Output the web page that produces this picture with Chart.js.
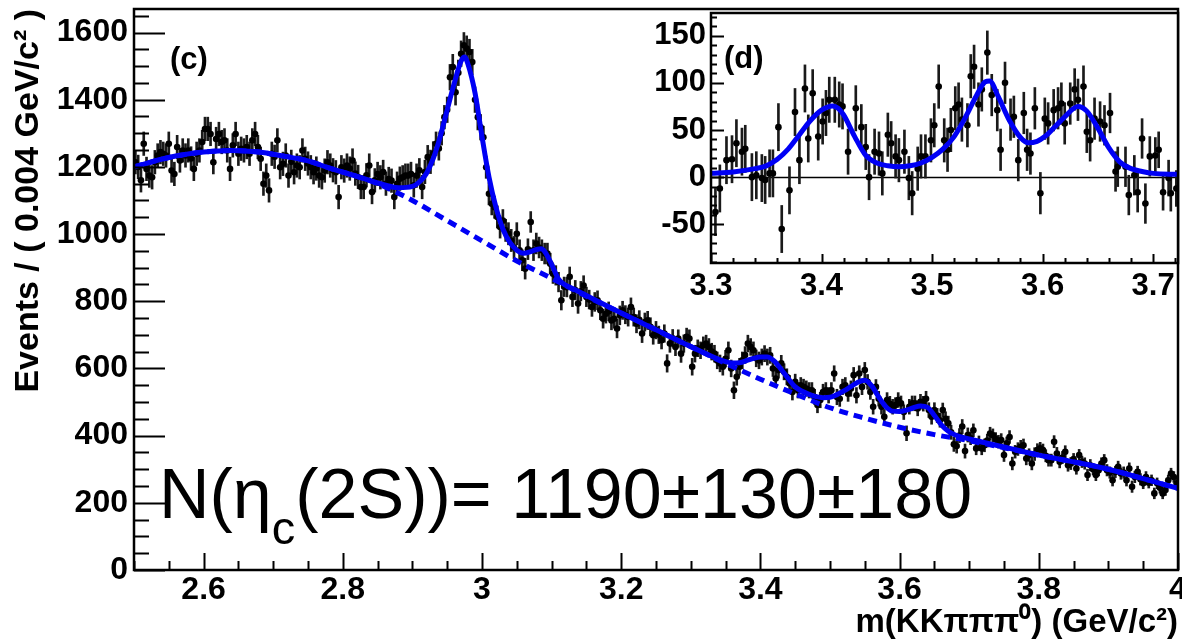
<!DOCTYPE html>
<html>
<head>
<meta charset="utf-8">
<script src="https://cdn.jsdelivr.net/npm/chart.js@4.4.1/dist/chart.umd.min.js"></script>
<style>
  html, body { margin: 0; padding: 0; background: #fff; }
  #wrap { position: relative; width: 1182px; height: 643px; overflow: hidden; font-family: "Liberation Sans", Arial, sans-serif; }
  #main { position: absolute; left: 0; top: 0; }
  #insetBox { position: absolute; left: 640px; top: 0; width: 542px; height: 310px; }
  .lbl { position: absolute; font-weight: bold; font-size: 31px; line-height: 1; color: #000; }
  #ann { position: absolute; left: 159px; top: 459px; font-size: 70px; line-height: 70px; color: #000; white-space: nowrap; }
  #ann .sub { font-size: 47px; position: relative; top: 26px; }
</style>
</head>
<body>
<div id="wrap">
  <canvas id="main" width="1182" height="643"></canvas>
  <div id="insetBox"><canvas id="inset" width="542" height="310"></canvas></div>
  <div class="lbl" style="left:170px; top:43px;">(c)</div>
  <div class="lbl" style="left:724px; top:42px;">(d)</div>
  <div id="ann">N(η<span class="sub">c</span>(2S))= 1190±130±180</div>
</div>
<script>
// ---------------- DATA ----------------
// main histogram: bins of 0.004 GeV/c^2 from 2.50 to 4.00
const BIN_START = 2.502;
const BIN_WIDTH = 0.004;
const mainCounts = [
  1214,1200,1160,1269,1194,1174,1169,1214,1234,1244,
  1239,1234,1269,1189,1179,1259,1219,1249,1234,1249,
  1225,1194,1239,1249,1274,1313,1313,1298,1214,1283,
  1298,1274,1279,1249,1194,1264,1298,1239,1254,1249,
  1259,1239,1279,1298,1259,1224,1150,1174,1130,1239,
  1230,1279,1199,1209,1234,1174,1215,1184,1204,1199,
  1249,1224,1210,1199,1184,1195,1174,1169,1189,1214,
  1204,1190,1184,1110,1199,1189,1204,1195,1219,1180,
  1170,1140,1140,1175,1204,1125,1160,1179,1169,1185,
  1150,1164,1159,1110,1150,1165,1169,1174,1174,1179,
  1145,1174,1190,1140,1185,1229,1215,1240,1269,1255,
  1300,1348,1370,1467,1497,1422,1480,1537,1562,1552,
  1542,1512,1400,1348,1318,1288,1199,1120,1090,1080,
  1051,1021,1040,1011,1001,981,960,1001,952,922,
  897,955,1036,952,972,960,952,942,942,912,
  882,877,857,803,843,842,873,813,833,793,
  830,847,813,805,783,798,803,773,748,763,
  770,743,748,719,758,773,760,753,783,753,
  733,745,704,738,743,724,699,714,700,684,
  704,615,674,690,664,689,644,674,694,689,
  605,644,660,654,669,674,664,650,644,624,
  615,605,629,654,600,535,575,605,624,640,
  674,664,654,630,624,634,644,634,639,600,
  570,595,615,590,575,555,530,560,535,550,
  545,540,535,535,515,491,506,530,535,520,
  535,585,515,510,545,550,525,540,580,520,
  585,545,595,560,530,486,545,510,486,456,
  506,495,486,491,506,496,470,407,486,496,
  496,481,501,495,510,476,456,476,460,446,
  476,450,437,410,374,369,400,427,354,402,
  392,416,362,380,362,371,385,406,401,390,
  382,387,342,377,396,317,352,360,367,371,
  332,342,317,345,357,362,357,340,327,327,
  382,347,322,335,352,312,317,330,302,342,
  322,317,283,312,300,283,297,317,327,297,
  290,267,292,307,287,290,267,302,248,277,
  292,270,258,277,260,267,228,258,245,228,
  238,267,287,277,258
];
// half-length of the error bars, read per 0.05 GeV segment starting at 2.50
const ERR_SEG_START = 2.5;
const ERR_SEG_WIDTH = 0.05;
const errPerSegment = [35,35,35,35,35,35,35,35,35,38, 33,31,29,28,27,26,25,25,24,23, 23,22,22,21,19,19,18,17,17,16];

// total fit (solid) and background (dashed)
const fitMass = [2.50,2.55,2.60,2.64,2.68,2.71,2.75,2.78,2.82,2.85,2.88,2.90,2.91,2.92,2.93,2.94,2.95,2.96,2.97,2.975,2.98,2.99,3.00,3.01,3.02,3.03,3.04,3.05,3.06,3.07,3.08,3.085,3.09,3.10,3.11,3.12,3.13,3.15,3.20,3.25,3.30,3.35,3.36,3.37,3.38,3.39,3.40,3.41,3.42,3.43,3.44,3.45,3.46,3.47,3.48,3.49,3.50,3.51,3.52,3.53,3.54,3.55,3.56,3.57,3.58,3.59,3.60,3.61,3.62,3.63,3.64,3.65,3.66,3.67,3.68,3.70,3.75,3.80,3.85,3.90,3.95,4.00];
const fitValue = [1200,1228,1244,1249,1244,1234,1218,1197,1172,1152,1138,1142,1155,1180,1225,1290,1370,1448,1515,1527,1505,1420,1290,1170,1080,1015,975,952,943,948,955,956,948,910,866,848,838,817,765,715,665,620,616,617,623,630,634,634,622,597,570,545,532,523,516,513,514,522,533,546,559,565,548,515,487,473,472,476,483,488,484,460,432,413,402,390,366,342,322,300,272,243];
const bgMass = [2.50,2.55,2.60,2.64,2.68,2.71,2.75,2.78,2.82,2.85,2.90,2.95,3.00,3.05,3.10,3.15,3.20,3.25,3.30,3.35,3.40,3.45,3.50,3.55,3.60,3.65,3.70,3.75,3.80,3.85,3.90,3.95,4.00];
const bgValue = [1200,1228,1244,1249,1244,1234,1218,1197,1172,1150,1100,1040,980,920,868,815,765,715,665,615,568,524,483,452,425,403,385,364,342,322,300,272,243];

// inset (d): background-subtracted spectrum
const insetMass = [3.304,3.308,3.314,3.319,3.323,3.328,3.331,3.337,3.341,3.346,3.349,3.353,3.356,3.361,3.364,3.371,3.376,3.380,3.385,3.388,3.392,3.397,3.401,3.404,3.407,3.412,3.416,3.419,3.424,3.431,3.436,3.440,3.443,3.448,3.452,3.455,3.460,3.463,3.467,3.470,3.475,3.479,3.482,3.487,3.490,3.494,3.499,3.502,3.506,3.511,3.514,3.517,3.521,3.524,3.527,3.532,3.535,3.538,3.542,3.545,3.550,3.554,3.559,3.562,3.566,3.571,3.574,3.578,3.583,3.586,3.589,3.593,3.598,3.602,3.605,3.610,3.614,3.617,3.620,3.625,3.629,3.632,3.637,3.640,3.643,3.647,3.652,3.656,3.661,3.666,3.668,3.675,3.678,3.683,3.686,3.690,3.693,3.697,3.702,3.705,3.709,3.714,3.716,3.721];
const insetCounts = [-37,-12,18,19,36,27,30,0,2,-1,-3,4,4,53,-55,-14,69,18,94,41,89,43,59,68,82,82,77,75,27,73,53,32,0,27,25,4,45,36,22,18,27,-1,-17,9,22,22,39,55,96,39,29,50,73,77,61,55,107,117,77,93,132,87,71,29,100,61,64,18,68,29,25,73,-17,62,57,71,73,78,57,78,93,82,96,48,39,62,59,55,68,6,11,11,-19,2,-16,41,-28,22,23,29,-16,-1,-17,-12];
const insetFitMass = [3.300,3.320,3.340,3.350,3.360,3.370,3.380,3.390,3.400,3.410,3.415,3.420,3.430,3.440,3.450,3.460,3.470,3.480,3.490,3.500,3.510,3.520,3.530,3.540,3.548,3.552,3.560,3.570,3.580,3.587,3.595,3.602,3.610,3.620,3.632,3.640,3.650,3.660,3.670,3.680,3.690,3.700,3.7225];
const insetFitValue = [4,5.5,9,12,19,30,45,60,71,75.5,73,66,43,23,15,12,11,12,15,21,30,43,63,86,101,102,85,60,42,36.5,38,43,52,64,75,70,52,31,16,9,6,4,3];

// tick labels
const mainXTicks = [2.6, 2.8, 3, 3.2, 3.4, 3.6, 3.8, 4];
const mainYTicks = [0, 200, 400, 600, 800, 1000, 1200, 1400, 1600];
const insetXTicks = [3.3, 3.4, 3.5, 3.6, 3.7];
const insetYTicks = [-50, 0, 50, 100, 150];

// ---------------- helpers ----------------
function errFor(m) {
  let k = Math.floor((m - ERR_SEG_START) / ERR_SEG_WIDTH);
  k = Math.max(0, Math.min(errPerSegment.length - 1, k));
  return errPerSegment[k];
}
const mainMass = mainCounts.map((_, i) => +(BIN_START + BIN_WIDTH * i).toFixed(3));
const pts = (xs, ys) => xs.map((x, i) => ({ x: x, y: ys[i] }));
const bars = (xs, ys) => xs.map((x, i) => ({ x: x, y: [ys[i] - errFor(x), ys[i] + errFor(x)] }));

const FONT = '"Liberation Sans", Arial, sans-serif';
const BLUE = '#0000f5';

function frameTicks(id, cfg) {
  return {
    id: id,
    beforeDraw(chart) {
      if (!cfg.fill) return;
      const a = chart.chartArea, ctx = chart.ctx;
      ctx.save(); ctx.fillStyle = '#fff';
      ctx.fillRect(a.left, a.top, a.right - a.left, a.bottom - a.top);
      ctx.restore();
    },
    beforeDatasetsDraw(chart) {
      if (!cfg.zeroLine) return;
      const a = chart.chartArea, ctx = chart.ctx, y = chart.scales.y;
      const py = Math.round(y.getPixelForValue(0)) + 0.5;
      ctx.save(); ctx.strokeStyle = '#000'; ctx.lineWidth = 1.3;
      ctx.beginPath(); ctx.moveTo(a.left, py); ctx.lineTo(a.right, py); ctx.stroke();
      ctx.restore();
    },
    afterDraw(chart) {
      const a = chart.chartArea, ctx = chart.ctx, xs = chart.scales.x, ys = chart.scales.y;
      ctx.save();
      ctx.strokeStyle = '#000';
      ctx.lineWidth = cfg.frameWidth;
      ctx.strokeRect(a.left, a.top, a.right - a.left, a.bottom - a.top);
      ctx.lineWidth = cfg.tickWidth;
      ctx.beginPath();
      const k0 = Math.ceil(ys.min / cfg.yMinor - 1e-6), k1 = Math.floor(ys.max / cfg.yMinor + 1e-6);
      for (let k = k0; k <= k1; k++) {
        const v = k * cfg.yMinor;
        const major = Math.abs(v / cfg.yMajor - Math.round(v / cfg.yMajor)) < 1e-6;
        const py = Math.round(ys.getPixelForValue(v)) + 0.5;
        ctx.moveTo(a.left, py); ctx.lineTo(a.left + (major ? cfg.yMajorLen : cfg.yMinorLen), py);
      }
      const j0 = Math.ceil(xs.min / cfg.xMinor - 1e-6), j1 = Math.floor(xs.max / cfg.xMinor + 1e-6);
      for (let j = j0; j <= j1; j++) {
        const v = j * cfg.xMinor;
        const major = Math.abs(v / cfg.xMajor - Math.round(v / cfg.xMajor)) < 1e-6;
        const px = Math.round(xs.getPixelForValue(v)) + 0.5;
        ctx.moveTo(px, a.bottom); ctx.lineTo(px, a.bottom - (major ? cfg.xMajorLen : cfg.xMinorLen));
      }
      ctx.stroke();
      ctx.restore();
    }
  };
}

// ---------------- main chart ----------------
new Chart(document.getElementById('main'), {
  type: 'scatter',
  data: {
    datasets: [
      { type: 'line', data: pts(fitMass, fitValue), borderColor: BLUE, borderWidth: 5, pointRadius: 0,
        cubicInterpolationMode: 'monotone', fill: false, order: 0 },
      { type: 'line', data: pts(bgMass, bgValue), borderColor: BLUE, borderWidth: 5, borderDash: [9, 6], pointRadius: 0,
        cubicInterpolationMode: 'monotone', fill: false, order: 1 },
      { type: 'scatter', data: pts(mainMass, mainCounts), pointRadius: 3.3, pointBackgroundColor: '#000',
        pointBorderWidth: 0, order: 2 },
      { type: 'bar', data: bars(mainMass, mainCounts), backgroundColor: '#1a1a1a', barThickness: 2, order: 3 }
    ]
  },
  options: {
    responsive: false, animation: false, events: [],
    layout: { padding: { top: 9, right: 1, left: 0, bottom: 0 } },
    plugins: { legend: { display: false }, tooltip: { enabled: false } },
    scales: {
      x: {
        type: 'linear', min: 2.5, max: 4.0, offset: false,
        grid: { display: false, drawTicks: false }, border: { display: false },
        afterBuildTicks: s => { s.ticks = mainXTicks.map(v => ({ value: v })); },
        afterFit: s => { s.height = 73; s.paddingLeft = 0; s.paddingRight = 0; },
        ticks: { color: '#000', padding: 1, maxRotation: 0, autoSkip: false,
          font: { family: FONT, size: 32, weight: 'bold' }, callback: v => String(v) },
        title: { display: true, text: 'm(KKπππ⁰) (GeV/c²)', align: 'end', color: '#000',
          padding: { top: 0, bottom: 0 }, font: { family: FONT, size: 33, weight: 'bold' } }
      },
      y: {
        type: 'linear', min: 0, max: 1670,
        grid: { display: false, drawTicks: false }, border: { display: false },
        afterBuildTicks: s => { s.ticks = mainYTicks.map(v => ({ value: v })); },
        afterFit: s => { s.width = 134; s.paddingTop = 0; s.paddingBottom = 0; },
        ticks: { color: '#000', padding: 6, autoSkip: false,
          font: { family: FONT, size: 32, weight: 'bold' }, callback: v => String(v) },
        title: { display: true, text: 'Events / ( 0.004 GeV/c² )', align: 'end', color: '#000',
          padding: { top: 8, bottom: 0 }, font: { family: FONT, size: 34, weight: 'bold' } }
      }
    }
  },
  plugins: [frameTicks('mainFrame', { fill: false, zeroLine: false, frameWidth: 2.5, tickWidth: 2,
    yMinor: 50, yMajor: 200, yMajorLen: 31, yMinorLen: 15,
    xMinor: 0.05, xMajor: 0.2, xMajorLen: 17, xMinorLen: 9 })]
});

// ---------------- inset chart ----------------
new Chart(document.getElementById('inset'), {
  type: 'scatter',
  data: {
    datasets: [
      { type: 'line', data: pts(insetFitMass, insetFitValue), borderColor: BLUE, borderWidth: 5, pointRadius: 0,
        cubicInterpolationMode: 'monotone', fill: false, order: 0 },
      { type: 'scatter', data: pts(insetMass, insetCounts), pointRadius: 3.3, pointBackgroundColor: '#000',
        pointBorderWidth: 0, order: 1 },
      { type: 'bar', data: bars(insetMass, insetCounts), backgroundColor: '#1a1a1a', barThickness: 2, order: 2 }
    ]
  },
  options: {
    responsive: false, animation: false, events: [],
    layout: { padding: { top: 13, right: 2, left: 0, bottom: 0 } },
    plugins: { legend: { display: false }, tooltip: { enabled: false } },
    scales: {
      x: {
        type: 'linear', min: 3.3, max: 3.7225, offset: false,
        grid: { display: false, drawTicks: false }, border: { display: false },
        afterBuildTicks: s => { s.ticks = insetXTicks.map(v => ({ value: v })); },
        afterFit: s => { s.height = 47; s.paddingLeft = 0; s.paddingRight = 0; },
        ticks: { color: '#000', padding: 5, maxRotation: 0, autoSkip: false,
          font: { family: FONT, size: 31, weight: 'bold' }, callback: v => String(v) }
      },
      y: {
        type: 'linear', min: -91, max: 174,
        grid: { display: false, drawTicks: false }, border: { display: false },
        afterBuildTicks: s => { s.ticks = insetYTicks.map(v => ({ value: v })); },
        afterFit: s => { s.width = 71; s.paddingTop = 0; s.paddingBottom = 0; },
        ticks: { color: '#000', padding: 5, autoSkip: false,
          font: { family: FONT, size: 31, weight: 'bold' }, callback: v => String(v) }
      }
    }
  },
  plugins: [frameTicks('insetFrame', { fill: true, zeroLine: true, frameWidth: 2.5, tickWidth: 2,
    yMinor: 10, yMajor: 50, yMajorLen: 13, yMinorLen: 6,
    xMinor: 0.02, xMajor: 0.1, xMajorLen: 9, xMinorLen: 5 })]
});
</script>
</body>
</html>
